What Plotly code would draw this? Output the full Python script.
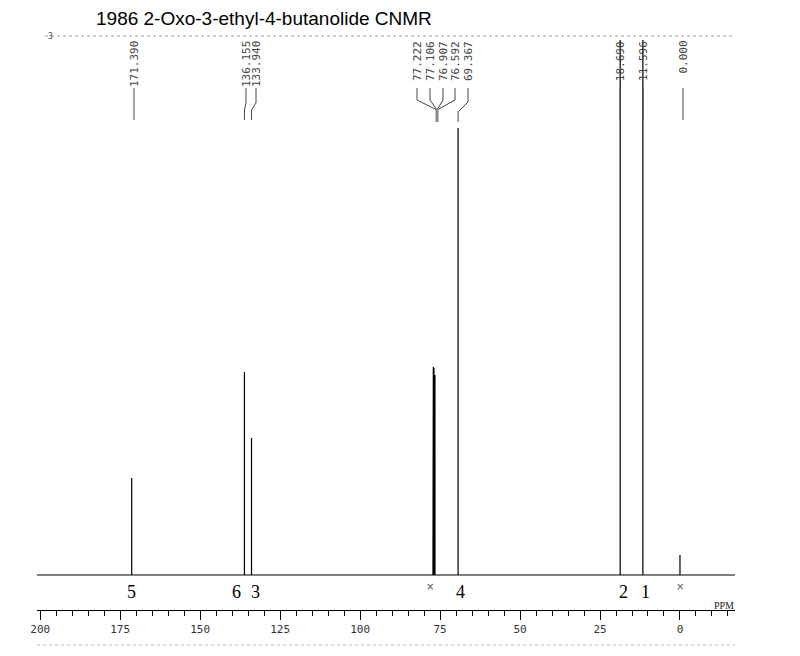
import plotly.graph_objects as go

# ---------------- data ----------------
title_text = "1986 2-Oxo-3-ethyl-4-butanolide CNMR"
peak_ppm = [171.390, 136.155, 133.940, 77.222, 77.106, 76.907, 76.592, 69.367, 18.690, 11.596, 0.000]
peak_height = [97, 203, 137, 205, 208, 207, 200, 447, 535, 535, 20]
peak_label = ["171.390", "136.155", "133.940", "77.222", "77.106", "76.907", "76.592",
              "69.367", "18.690", "11.596", "0.000"]
assign_text = ["5", "6", "3", "4", "2", "1"]
solvent_marks_ppm = [78.0, 0.0]
tick_vals = [200, 175, 150, 125, 100, 75, 50, 25, 0]
tick_text = ["200", "175", "150", "125", "100", "75", "50", "25", "0"]

# ---------------- geometry helpers (layout only) ----------------
OFF = 8                   # page body margin of the browser
W, H = 800 - OFF, 656 - OFF
PL, PR = 37, 735          # plot left / right (image pixels)
PT, PB = 20, 610          # plot top / bottom (image pixels)
X0, X1 = 201.0, -17.2     # ppm at left / right edge
BASE = 575                # baseline (image pixel)


def xp(p):   # image pixel -> paper x
    return (p - PL) / (PR - PL)


def yp(p):   # image pixel -> paper y
    return (PB - p) / (PB - PT)


def ppm_px(v):  # ppm -> image pixel x
    return PL + (X0 - v) * (PR - PL) / (X0 - X1)


# ---------------- spectrum trace ----------------
xs, ys = [X0], [0]
for v, h in sorted(zip(peak_ppm, peak_height), key=lambda t: -t[0]):
    xs += [v, v, v]
    ys += [0, h, 0]
xs.append(X1)
ys.append(0)

fig = go.Figure()
fig.add_trace(go.Scatter(x=xs, y=ys, mode="lines",
                         line=dict(color="black", width=1.2),
                         hoverinfo="skip", showlegend=False))

annotations = []
shapes = []


def seg(pts, color="#444", width=1):
    for (a, b), (c, d) in zip(pts[:-1], pts[1:]):
        shapes.append(dict(type="line", xref="paper", yref="paper",
                           x0=xp(a), y0=yp(b), x1=xp(c), y1=yp(d),
                           line=dict(color=color, width=width)))


# title and header bits
annotations.append(dict(text=title_text, x=xp(95), y=yp(18), xref="paper", yref="paper",
                        xanchor="left", yanchor="middle", showarrow=False, borderpad=0,
                        font=dict(family="Liberation Sans Narrow, Arial Narrow, Liberation Sans, Arial",
                                  size=19, color="black")))
annotations.append(dict(text="3", x=xp(46), y=yp(30), xref="paper", yref="paper",
                        showarrow=False, font=dict(family="DejaVu Sans Mono", size=8, color="#444")))
shapes.append(dict(type="line", xref="paper", yref="paper", x0=xp(45), x1=xp(735),
                   y0=yp(36), y1=yp(36), line=dict(color="#999", width=1, dash="dot")))
shapes.append(dict(type="line", xref="paper", yref="paper", x0=xp(37), x1=xp(735),
                   y0=yp(645), y1=yp(645), line=dict(color="#bbb", width=1, dash="dot")))

# peak labels (vertical text) with leader lines
label_px = [134, 246, 256, 417, 430, 443, 455, 468, None, None, 683]
for i, (v, lab) in enumerate(zip(peak_ppm, peak_label)):
    lx = label_px[i] if label_px[i] is not None else ppm_px(v)
    annotations.append(dict(text=lab, x=xp(lx), y=yp(39), xref="paper", yref="paper",
                            xanchor="center", yanchor="top", textangle=-90, showarrow=False,
                            font=dict(family="DejaVu Sans Mono", size=11, color="#444")))
    px = ppm_px(v)
    if 3 <= i <= 6:
        seg([(lx, 88), (lx, 100), (437, 110), (437, 112)])
    elif i in (1, 2):
        seg([(lx, 88), (lx, 103), (px, 110), (px, 120)])
    elif i == 7:
        seg([(lx, 88), (lx, 102), (px, 112), (px, 122)])
    else:
        seg([(lx, 88), (lx, 120)])

# thick CDCl3 connector
shapes.append(dict(type="line", xref="paper", yref="paper", x0=xp(437), x1=xp(437),
                   y0=yp(108), y1=yp(122), line=dict(color="#888", width=3)))

# assignment numbers below the baseline
assign_px = [131.5, 236.5, 255.5, 460, 623, 645]
for t, p in zip(assign_text, assign_px):
    annotations.append(dict(text=t, x=xp(p), y=yp(592), xref="paper", yref="paper",
                            xanchor="center", yanchor="middle", showarrow=False,
                            font=dict(family="Liberation Serif, DejaVu Serif", size=18, color="black")))
for v in solvent_marks_ppm:
    annotations.append(dict(text="\u00d7", x=v, y=BASE - 586, xref="x", yref="y",
                            xanchor="center", yanchor="middle", showarrow=False,
                            font=dict(family="DejaVu Sans", size=10, color="#555")))
annotations.append(dict(text="PPM", x=xp(724), y=yp(605), xref="paper", yref="paper",
                        xanchor="center", yanchor="middle", showarrow=False,
                        font=dict(family="Liberation Serif, DejaVu Serif", size=10, color="#222")))

fig.update_layout(
    width=W, height=H,
    margin=dict(l=PL - OFF, r=W - (PR - OFF), t=PT - OFF, b=H - (PB - OFF), pad=0),
    paper_bgcolor="white", plot_bgcolor="white",
    showlegend=False,
    annotations=annotations, shapes=shapes,
    xaxis=dict(range=[X0, X1], showgrid=False, zeroline=False,
               showline=True, linecolor="black", linewidth=1,
               ticks="outside", ticklen=9, tickwidth=1, tickcolor="black",
               tickvals=tick_vals, ticktext=tick_text,
               tickfont=dict(family="DejaVu Sans Mono", size=11, color="#333"),
               minor=dict(dtick=5, tick0=0, ticks="outside", ticklen=5, tickcolor="black", tickwidth=1)),
    yaxis=dict(range=[-(PB - BASE), (BASE - PT)], visible=False, showgrid=False, zeroline=False),
)

fig.write_html("out.html")
